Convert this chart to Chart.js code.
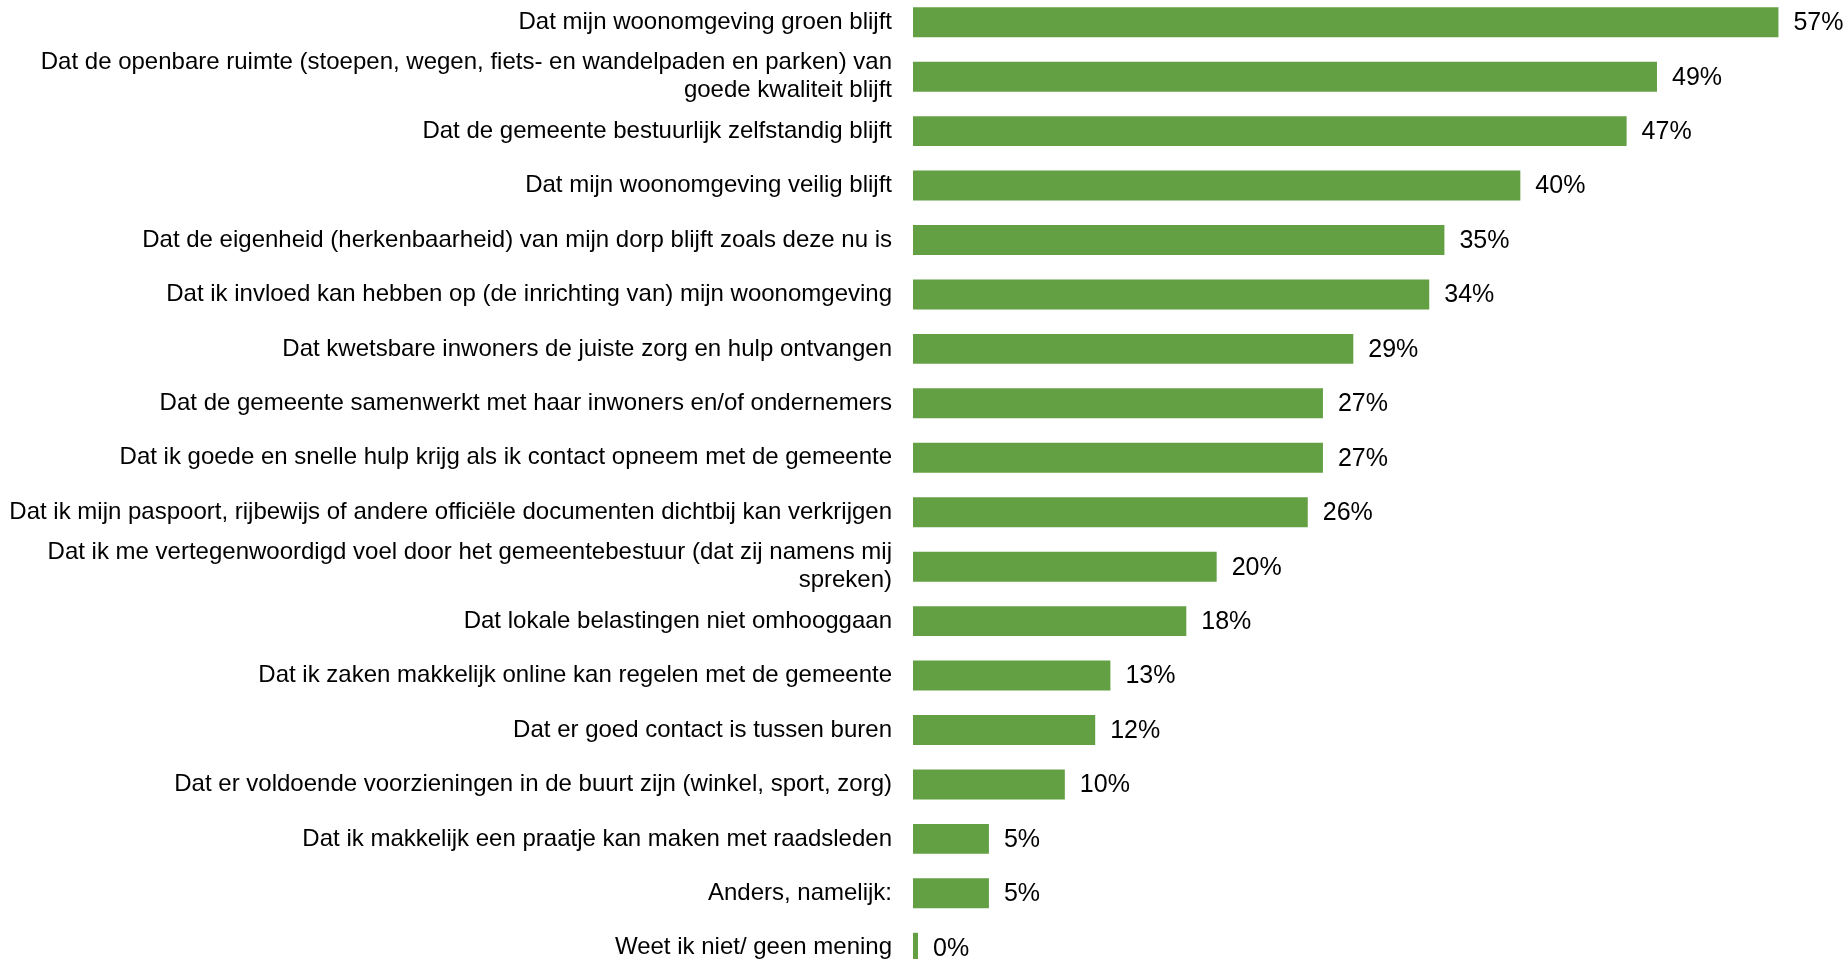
<!DOCTYPE html>
<html>
<head>
<meta charset="utf-8">
<script src="https://cdn.jsdelivr.net/npm/chart.js@4"></script>
<style>
  html, body { margin: 0; padding: 0; background: #ffffff; overflow: hidden; width: 1848px; height: 959px; }
  #wrap { position: absolute; left: 0; top: -5px; width: 1848px; height: 980px; }
</style>
</head>
<body>
<div id="wrap"><canvas id="chart" width="1848" height="980"></canvas></div>
<script>
// Wat vindt u belangrijk voor de toekomst van uw gemeente? (percentage respondenten)
const categories = [
  'Dat mijn woonomgeving groen blijft',
  ['Dat de openbare ruimte (stoepen, wegen, fiets- en wandelpaden en parken) van', 'goede kwaliteit blijft'],
  'Dat de gemeente bestuurlijk zelfstandig blijft',
  'Dat mijn woonomgeving veilig blijft',
  'Dat de eigenheid (herkenbaarheid) van mijn dorp blijft zoals deze nu is',
  'Dat ik invloed kan hebben op (de inrichting van) mijn woonomgeving',
  'Dat kwetsbare inwoners de juiste zorg en hulp ontvangen',
  'Dat de gemeente samenwerkt met haar inwoners en/of ondernemers',
  'Dat ik goede en snelle hulp krijg als ik contact opneem met de gemeente',
  'Dat ik mijn paspoort, rijbewijs of andere officiële documenten dichtbij kan verkrijgen',
  ['Dat ik me vertegenwoordigd voel door het gemeentebestuur (dat zij namens mij', 'spreken)'],
  'Dat lokale belastingen niet omhooggaan',
  'Dat ik zaken makkelijk online kan regelen met de gemeente',
  'Dat er goed contact is tussen buren',
  'Dat er voldoende voorzieningen in de buurt zijn (winkel, sport, zorg)',
  'Dat ik makkelijk een praatje kan maken met raadsleden',
  'Anders, namelijk:',
  'Weet ik niet/ geen mening'
];

const percentages = [57, 49, 47, 40, 35, 34, 29, 27, 27, 26, 20, 18, 13, 12, 10, 5, 5, 0];

const FONT_FAMILY = '"Liberation Sans", Arial, sans-serif';
const BAR_GREEN = '#63a043';

// Writes "NN%" just past the end of each bar
const valueLabels = {
  id: 'valueLabels',
  afterDatasetsDraw(chart) {
    const { ctx } = chart;
    const meta = chart.getDatasetMeta(0);
    ctx.save();
    ctx.font = '25px ' + FONT_FAMILY;
    ctx.fillStyle = '#000000';
    ctx.textAlign = 'left';
    ctx.textBaseline = 'middle';
    meta.data.forEach((bar, i) => {
      const v = chart.data.datasets[0].data[i];
      ctx.fillText(v + '%', bar.x + 15, bar.y + 1);
    });
    ctx.restore();
  }
};

new Chart(document.getElementById('chart'), {
  type: 'bar',
  data: {
    labels: categories,
    datasets: [{
      data: percentages,
      backgroundColor: BAR_GREEN,
      borderWidth: 0,
      barPercentage: 0.55,
      categoryPercentage: 1.0,
      minBarLength: 5
    }]
  },
  options: {
    indexAxis: 'y',
    responsive: false,
    animation: false,
    devicePixelRatio: 1,
    layout: { padding: { left: 0, right: 24, top: 0, bottom: 0 } },
    plugins: {
      legend: { display: false },
      tooltip: { enabled: false }
    },
    scales: {
      x: {
        display: false,
        min: 0,
        max: 60
      },
      y: {
        grid: { display: false, drawTicks: false },
        border: { display: false },
        ticks: {
          autoSkip: false,
          color: '#000000',
          padding: 21,
          font: { family: FONT_FAMILY, size: 24, lineHeight: 1.15 }
        },
        afterFit(scale) {
          // fixed label column; the category bands fill the full height
          scale.width = 913;
          scale.paddingTop = 0;
          scale.paddingBottom = 0;
        }
      }
    }
  },
  plugins: [valueLabels]
});
</script>
</body>
</html>
